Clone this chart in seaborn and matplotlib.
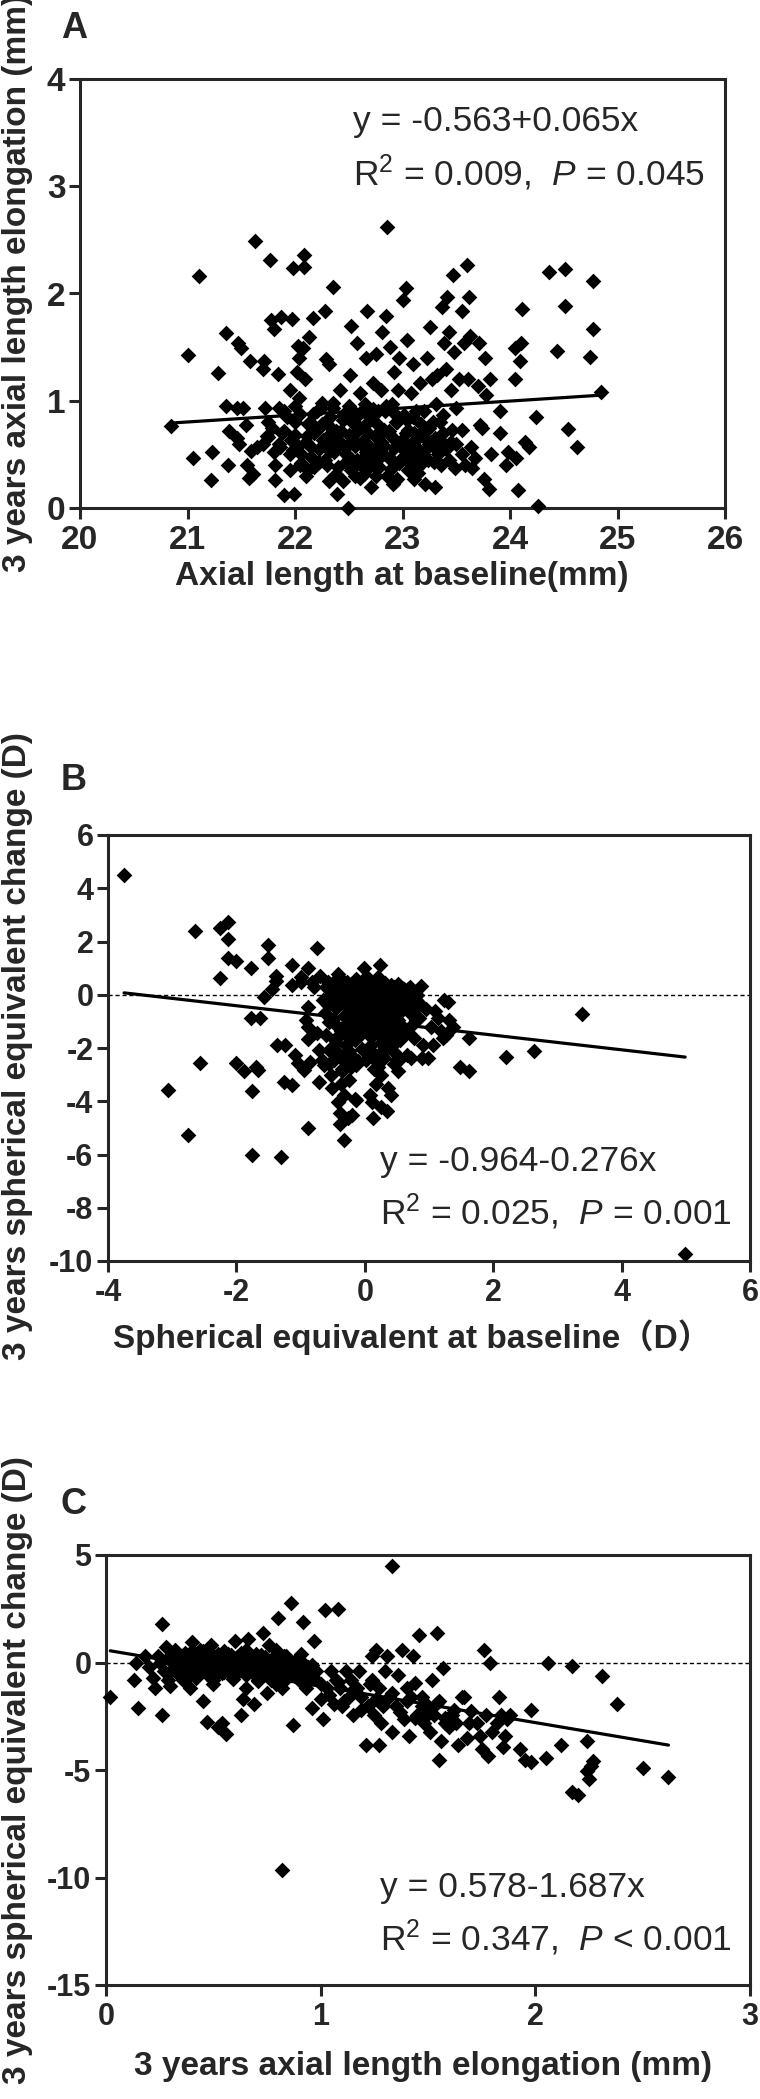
import matplotlib
matplotlib.use("Agg")
import numpy as np
import pandas as pd
import matplotlib.pyplot as plt
import matplotlib.transforms as mtransforms
import seaborn as sns

# DATA

# A: axial length at baseline (mm) vs 3-year axial elongation (mm)
a_points = [
    (20.85, 0.76), (21.0, 1.43), (21.05, 0.47), (21.11, 2.16), (21.22, 0.26), (21.23, 0.52),
    (21.28, 1.26), (21.36, 1.63), (21.36, 0.95), (21.38, 0.40), (21.39, 0.72), (21.46, 0.93),
    (21.46, 0.65), (21.47, 1.54), (21.5, 1.49), (21.48, 0.60), (21.52, 0.93), (21.54, 0.77),
    (21.55, 0.40), (21.57, 0.28), (21.58, 1.37), (21.59, 0.53), (21.61, 0.32), (21.63, 2.49),
    (21.65, 0.57), (21.7, 1.30), (21.71, 1.37), (21.72, 0.93), (21.74, 0.67), (21.75, 0.80),
    (21.77, 2.31), (21.78, 1.75), (21.8, 1.67), (21.79, 0.75), (21.81, 0.40), (21.81, 0.26),
    (21.84, 1.25), (21.85, 0.93), (21.86, 0.57), (21.87, 1.78), (21.88, 0.70), (21.9, 0.12),
    (21.93, 0.85), (21.95, 1.10), (21.96, 0.63), (21.97, 1.76), (21.98, 2.24), (21.98, 0.54),
    (21.99, 0.13), (22.0, 0.95), (22.02, 1.27), (22.03, 1.51), (22.04, 1.40), (22.04, 1.03),
    (22.05, 0.40), (22.06, 0.50), (22.07, 1.49), (22.08, 2.25), (22.08, 2.36), (22.09, 1.20),
    (22.11, 0.67), (22.12, 0.35), (22.13, 1.59), (22.14, 0.80), (22.15, 0.57), (22.17, 1.77),
    (22.17, 0.88), (22.2, 0.73), (22.22, 0.43), (22.24, 0.93), (22.26, 0.63), (22.28, 1.84),
    (22.29, 1.39), (22.3, 0.40), (22.31, 0.77), (22.32, 1.34), (22.33, 0.53), (22.35, 2.06),
    (22.35, 0.93), (22.38, 0.32), (22.39, 0.13), (22.4, 0.70), (22.42, 1.10), (22.44, 0.60),
    (22.45, 0.87), (22.47, 0.43), (22.49, 0.0), (22.5, 0.48), (22.51, 1.24), (22.52, 1.70),
    (22.53, 0.80), (22.55, 0.63), (22.56, 0.30), (22.58, 1.54), (22.59, 0.73), (22.6, 1.07),
    (22.61, 0.40), (22.62, 0.90), (22.64, 0.57), (22.66, 1.40), (22.67, 1.84), (22.68, 0.80),
    (22.7, 0.47), (22.71, 0.20), (22.73, 1.17), (22.74, 0.67), (22.75, 1.44), (22.76, 0.37),
    (22.77, 0.90), (22.78, 0.57), (22.8, 1.10), (22.81, 1.64), (22.83, 0.73), (22.85, 1.79),
    (22.86, 2.62), (22.87, 0.47), (22.88, 1.50), (22.9, 0.97), (22.91, 0.22), (22.92, 1.27),
    (22.93, 0.63), (22.94, 0.80), (22.95, 0.27), (22.96, 1.10), (22.97, 1.40), (23.0, 1.94),
    (23.01, 0.87), (23.02, 0.53), (23.03, 2.05), (23.04, 1.57), (23.05, 0.73), (23.08, 1.07),
    (23.09, 0.40), (23.1, 1.34), (23.11, 0.27), (23.12, 0.63), (23.13, 0.90), (23.14, 0.33),
    (23.16, 1.17), (23.19, 0.50), (23.2, 0.73), (23.21, 0.22), (23.23, 1.40), (23.25, 0.60),
    (23.26, 1.69), (23.27, 1.20), (23.28, 0.80), (23.29, 0.43), (23.3, 0.20), (23.31, 0.97),
    (23.32, 1.24), (23.35, 0.63), (23.36, 0.40), (23.37, 1.87), (23.38, 0.87), (23.39, 1.54),
    (23.4, 1.30), (23.41, 1.97), (23.42, 0.57), (23.43, 1.64), (23.45, 1.10), (23.46, 0.73),
    (23.47, 2.17), (23.48, 1.45), (23.49, 0.37), (23.5, 0.93), (23.53, 1.20), (23.55, 1.84),
    (23.55, 0.73), (23.57, 1.54), (23.58, 0.40), (23.6, 2.27), (23.61, 1.20), (23.62, 1.97),
    (23.63, 1.60), (23.64, 0.57), (23.65, 0.37), (23.67, 0.47), (23.7, 1.14), (23.71, 1.54),
    (23.72, 0.77), (23.74, 0.75), (23.76, 0.27), (23.77, 1.40), (23.78, 1.05), (23.8, 0.18),
    (23.81, 1.20), (23.82, 0.50), (23.91, 0.90), (23.91, 0.70), (23.96, 0.40), (23.98, 0.52),
    (24.05, 1.20), (24.05, 1.49), (24.06, 0.47), (24.07, 0.17), (24.09, 1.37), (24.1, 1.54),
    (24.11, 1.86), (24.14, 0.62), (24.18, 0.57), (24.24, 0.85), (24.26, 0.02), (24.36, 2.20),
    (24.44, 1.46), (24.51, 2.23), (24.51, 1.88), (24.54, 0.74), (24.62, 0.57), (24.74, 1.41),
    (24.77, 1.67), (24.77, 2.12), (24.85, 1.08),
]
a_cluster = [
    (22.1, 0.62), (22.15, 0.48), (22.18, 0.7), (22.22, 0.55), (22.25, 0.78), (22.28, 0.45),
    (22.3, 0.66), (22.33, 0.85), (22.36, 0.52), (22.38, 0.72), (22.4, 0.38), (22.42, 0.6),
    (22.45, 0.82), (22.47, 0.5), (22.5, 0.68), (22.52, 0.35), (22.54, 0.9), (22.56, 0.58),
    (22.58, 0.45), (22.6, 0.75), (22.62, 0.62), (22.64, 0.32), (22.66, 0.52), (22.68, 0.7),
    (22.7, 0.85), (22.72, 0.42), (22.74, 0.55), (22.76, 0.78), (22.78, 0.38), (22.8, 0.62),
    (22.82, 0.5), (22.84, 0.9), (22.86, 0.3), (22.88, 0.68), (22.9, 0.45), (22.92, 0.56),
    (22.95, 0.8), (22.98, 0.62), (23.0, 0.48), (23.03, 0.7), (23.05, 0.35), (23.08, 0.58),
    (23.1, 0.85), (23.13, 0.5), (23.15, 0.66), (23.18, 0.42), (23.2, 0.9), (23.22, 0.55),
    (21.85, 0.6), (21.9, 0.72), (21.95, 0.5), (22.0, 0.8), (22.03, 0.58), (22.06, 0.42),
    (21.75, 0.66), (21.8, 0.52), (21.7, 0.6), (22.45, 0.25), (22.6, 0.28), (22.75, 0.3),
    (22.85, 0.95), (22.65, 0.97), (22.5, 0.95), (22.35, 0.98), (22.2, 0.9), (23.3, 0.65),
    (23.35, 0.8), (23.4, 0.55), (23.25, 0.75), (23.45, 0.62),
    (21.9, 0.9), (21.95, 0.35), (22.0, 0.68), (22.05, 0.88), (22.1, 0.3), (22.12, 0.78),
    (22.18, 0.38), (22.25, 0.98), (22.28, 0.6), (22.32, 0.25), (22.37, 0.62), (22.43, 0.72),
    (22.48, 0.58), (22.53, 0.45), (22.57, 0.85), (22.63, 0.47), (22.67, 0.6), (22.69, 0.38),
    (22.73, 0.92), (22.77, 0.66), (22.79, 0.48), (22.83, 0.58), (22.87, 0.72), (22.89, 0.36),
    (22.93, 0.88), (22.97, 0.42), (23.01, 0.62), (23.04, 0.82), (23.07, 0.45), (23.11, 0.7),
    (23.14, 0.55), (23.17, 0.78), (23.21, 0.65), (23.24, 0.45), (23.28, 0.58), (23.33, 0.5),
    (23.38, 0.7), (23.43, 0.45), (23.5, 0.6), (23.55, 0.5),
]

# B: spherical equivalent at baseline (D) vs 3-year SE change (D)
b_points = [
    (-3.75, 4.5), (-3.07, -3.57), (-2.75, -5.25), (-2.64, 2.38), (-2.56, -2.57), (-2.25, 2.5),
    (-2.25, 0.63), (-2.13, 2.75), (-2.13, 2.1), (-2.13, 1.38), (-2.01, 1.25), (-2.0, -2.58),
    (-1.88, -2.87), (-1.77, 1.0), (-1.77, -0.87), (-1.76, -3.62), (-1.76, -6.0), (-1.7, -2.7),
    (-1.67, -2.83), (-1.63, -0.87), (-1.57, -0.08), (-1.51, 1.87), (-1.51, 1.37), (-1.45, 0.22),
    (-1.39, 0.72), (-1.38, 0.5), (-1.37, -1.87), (-1.3, -6.08), (-1.26, -3.28), (-1.24, -1.87),
    (-1.14, 1.1), (-1.14, 0.35), (-1.13, -3.4), (-1.09, -2.28), (-1.04, -2.57), (-1.0, 0.47),
    (-1.0, 0.67), (-0.95, -2.83), (-0.92, -0.95), (-0.89, 1.02), (-0.89, -0.45), (-0.88, -5.0),
    (-0.88, -1.2), (-0.88, -1.65), (-0.86, -2.53), (-0.83, 0.47), (-0.79, 0.3), (-0.75, 1.75),
    (-0.75, -1.45), (-0.71, -2.07), (-0.71, -3.28), (-0.7, 0.72), (-0.67, -2.45), (-0.65, -0.2),
    (-0.64, -2.62), (-0.62, -0.67), (-0.6, -1.53), (-0.58, 0.47), (-0.56, -2.07), (-0.55, -1.03),
    (-0.52, -3.0), (-0.51, -3.5), (-0.5, 0.13), (-0.48, -2.45), (-0.47, -1.7), (-0.45, -0.37),
    (-0.42, 0.77), (-0.41, -4.03), (-0.41, -2.2), (-0.39, -4.87), (-0.39, -4.45), (-0.37, -1.37),
    (-0.37, -3.37), (-0.35, -2.78), (-0.33, -0.2), (-0.32, -5.45), (-0.32, -3.78), (-0.3, -1.87),
    (-0.27, 0.47), (-0.26, -4.62), (-0.24, -3.2), (-0.24, -0.87), (-0.22, -2.7), (-0.2, -4.53),
    (-0.18, 0.22), (-0.16, -3.9), (-0.14, -2.62), (-0.13, -3.95), (-0.11, -0.03), (-0.1, -1.2),
    (-0.08, -1.53), (-0.05, -2.03), (-0.02, 1.0), (0.0, -0.53), (0.02, -2.45), (0.04, 0.47),
    (0.05, -1.37), (0.08, -3.78), (0.09, -1.87), (0.11, -4.03), (0.12, -4.62), (0.14, -2.78),
    (0.17, -3.37), (0.19, -0.87), (0.2, 0.67), (0.22, -1.53), (0.24, 1.13), (0.25, -3.03),
    (0.26, -4.2), (0.3, -2.37), (0.33, -0.2), (0.35, -4.37), (0.36, -3.5), (0.38, -1.95),
    (0.41, -3.78), (0.42, -1.37), (0.46, 0.13), (0.48, -1.78), (0.5, -2.45), (0.51, -2.87),
    (0.54, -0.7), (0.57, -0.2), (0.61, -1.53), (0.65, -2.28), (0.69, 0.13), (0.71, -1.23),
    (0.72, -2.37), (0.76, -1.62), (0.8, -0.2), (0.84, -0.87), (0.88, 0.33), (0.89, -2.37),
    (0.91, -1.87), (0.95, -0.53), (0.99, -2.37), (1.03, -1.2), (1.06, -1.87), (1.1, -0.62),
    (1.14, -0.87), (1.18, -1.37), (1.22, -1.62), (1.24, -0.2), (1.27, -1.53), (1.29, -0.28),
    (1.31, -0.95), (1.37, -1.2), (1.49, -2.73), (1.62, -1.62), (1.63, -2.87), (2.2, -2.33),
    (2.63, -2.12), (3.38, -0.73), (4.99, -9.73),
]
b_cluster = [
    (-0.6, 0.3), (-0.55, -0.1), (-0.5, 0.45), (-0.45, -0.5), (-0.4, 0.2), (-0.38, -0.3),
    (-0.35, 0.55), (-0.32, -0.8), (-0.3, 0.1), (-0.28, -0.2), (-0.25, 0.35), (-0.22, -0.6),
    (-0.2, 0.0), (-0.18, -1.0), (-0.15, 0.4), (-0.12, -0.4), (-0.1, 0.15), (-0.08, -0.75),
    (-0.05, 0.5), (-0.03, -0.15), (0.0, 0.25), (0.02, -0.45), (0.05, 0.05), (0.07, -0.9),
    (0.1, 0.4), (0.12, -0.3), (0.15, 0.15), (0.17, -0.65), (0.2, -0.05), (0.22, 0.3),
    (0.25, -0.5), (0.28, 0.1), (0.3, -0.85), (0.32, 0.45), (0.35, -0.25), (0.38, 0.2),
    (0.4, -0.6), (0.42, -0.05), (0.45, 0.3), (0.48, -0.4), (0.5, 0.1), (0.52, -0.95),
    (0.55, -0.15), (0.58, 0.25), (0.6, -0.5), (0.62, 0.0), (0.65, -0.3), (0.68, 0.2),
    (0.7, -0.7), (0.72, -0.1), (0.75, -0.45), (0.78, 0.1), (0.8, -0.95), (-0.5, -0.9),
    (-0.42, -1.2), (-0.2, -1.3), (0.0, -1.15), (0.2, -1.25), (0.4, -1.1), (0.6, -1.2),
    (-0.45, -1.8), (-0.4, -2.3), (-0.3, -1.5), (-0.25, -2.1), (-0.15, -1.7), (-0.1, -2.5),
    (-0.05, -1.4), (0.12, -2.2), (0.1, -1.6), (0.15, -2.4), (0.25, -1.8), (0.3, -2.05),
    (0.35, -1.45), (0.45, -2.15), (0.55, -1.7), (-0.55, -2.6), (-0.35, -2.85), (0.2, -2.7),
    (-0.58, -0.4), (-0.52, 0.1), (-0.47, -0.2), (-0.43, 0.6), (-0.36, -0.05), (-0.31, 0.3),
    (-0.27, -0.45), (-0.23, 0.15), (-0.17, -0.35), (-0.13, 0.6), (-0.07, -0.55), (-0.02, 0.1),
    (0.03, 0.65), (0.06, -0.25), (0.09, -0.6), (0.13, 0.0), (0.18, 0.5), (0.23, -0.3),
    (0.27, -0.7), (0.31, 0.2), (0.34, -0.45), (0.37, 0.0), (0.41, 0.35), (0.44, -0.2),
    (0.47, -0.75), (0.51, 0.4), (0.53, -0.35), (0.57, -0.6), (0.61, 0.2), (0.64, -0.15),
    (0.67, -0.55), (0.71, 0.3), (0.74, -0.25), (0.77, -0.6), (0.82, 0.0), (0.86, -0.35),
    (-0.3, -1.1), (-0.1, -1.0), (0.1, -1.1), (0.3, -1.05), (0.5, -1.3), (-0.4, -1.5),
    (0.4, -1.6), (-0.2, -2.3), (0.25, -2.25), (0.45, -2.6), (-0.45, -2.1), (0.35, -1.9),
    (-0.3, -2.55), (0.55, -2.4),
]

# C: 3-year axial elongation (mm) vs 3-year SE change (D)
c_points = [
    (0.02, -1.61), (0.13, -0.8), (0.14, 0.0), (0.15, -2.1), (0.18, 0.3), (0.2, -0.2),
    (0.22, -0.7), (0.23, -1.2), (0.24, 0.3), (0.26, 1.77), (0.26, -2.42), (0.28, 0.7),
    (0.29, -0.8), (0.3, -1.1), (0.31, 0.0), (0.32, 0.6), (0.33, -0.4), (0.35, 0.3),
    (0.36, -0.8), (0.37, 0.0), (0.38, -0.3), (0.39, -1.2), (0.4, 0.97), (0.41, 0.3),
    (0.43, -0.5), (0.44, 0.6), (0.45, -1.81), (0.46, 0.0), (0.47, -2.78), (0.48, -0.4),
    (0.49, 0.8), (0.5, -1.0), (0.52, -3.0), (0.53, 0.3), (0.54, -2.82), (0.55, -0.3),
    (0.56, -3.34), (0.57, 0.4), (0.58, -0.6), (0.6, 1.0), (0.61, 0.0), (0.63, -2.42),
    (0.64, -1.71), (0.65, -1.2), (0.66, 1.1), (0.67, -0.4), (0.69, -1.91), (0.7, 0.4),
    (0.71, -0.8), (0.73, 1.37), (0.74, 0.0), (0.75, -1.41), (0.76, 0.8), (0.77, -0.8),
    (0.79, 0.6), (0.8, 2.07), (0.81, -0.4), (0.82, -9.67), (0.82, -1.2), (0.83, 0.3),
    (0.85, -0.3), (0.86, 2.76), (0.87, -2.92), (0.88, 0.0), (0.9, -0.8), (0.91, 0.4),
    (0.92, 1.87), (0.93, -1.2), (0.95, -0.4), (0.96, -2.1), (0.97, 1.0), (0.98, -0.4),
    (1.0, -1.71), (1.01, -2.62), (1.02, 2.42), (1.03, -1.2), (1.05, -0.4), (1.06, -1.91),
    (1.07, -0.8), (1.08, 2.48), (1.09, -1.2), (1.1, -2.01), (1.12, -0.4), (1.13, -1.61),
    (1.14, -0.8), (1.15, -2.42), (1.17, -1.2), (1.18, -0.4), (1.19, -1.61), (1.21, -3.83),
    (1.22, -2.01), (1.24, 0.3), (1.24, -0.8), (1.25, -2.42), (1.26, 0.6), (1.27, -1.2),
    (1.27, -3.83), (1.28, -2.82), (1.3, -0.4), (1.31, 0.3), (1.32, -1.61), (1.33, 4.49),
    (1.33, -3.22), (1.35, -2.01), (1.36, -0.6), (1.38, 0.6), (1.39, -2.62), (1.4, -1.81),
    (1.41, -3.42), (1.42, -1.61), (1.43, 0.3), (1.44, -0.97), (1.45, -2.42), (1.46, 1.27),
    (1.47, -1.61), (1.48, -2.82), (1.5, -2.01), (1.51, -3.22), (1.52, -0.8), (1.53, -2.42),
    (1.54, 1.35), (1.55, -1.81), (1.55, -4.53), (1.56, -3.63), (1.57, -0.24), (1.58, -2.82),
    (1.59, -2.62), (1.6, -3.02), (1.61, -2.42), (1.63, -2.82), (1.64, -3.83), (1.66, -1.61),
    (1.67, -1.61), (1.68, -3.52), (1.69, -2.82), (1.7, -2.26), (1.73, -2.82), (1.74, -3.42),
    (1.75, -4.03), (1.76, 0.6), (1.77, -2.42), (1.78, -4.33), (1.79, 0.0), (1.8, -3.22),
    (1.82, -2.82), (1.83, -1.61), (1.84, -2.42), (1.85, -3.93), (1.86, -3.42), (1.87, -2.62),
    (1.88, -2.42), (1.93, -4.03), (1.95, -4.53), (1.98, -4.63), (1.98, -2.22), (2.05, -4.43),
    (2.06, 0.0), (2.12, -3.83), (2.17, -0.14), (2.17, -6.0), (2.2, -6.14), (2.24, -3.63),
    (2.24, -5.04), (2.25, -5.44), (2.26, -4.83), (2.27, -4.59), (2.31, -0.64), (2.38, -1.91),
    (2.5, -4.89), (2.62, -5.34),
]
c_cluster = [
    (0.3, 0.1), (0.31, -0.3), (0.32, 0.35), (0.33, -0.1), (0.34, -0.6), (0.35, 0.2),
    (0.36, -0.25), (0.37, 0.45), (0.38, -0.5), (0.39, 0.05), (0.4, -0.2), (0.41, 0.4),
    (0.42, -0.7), (0.43, 0.15), (0.44, -0.35), (0.45, 0.3), (0.46, -0.1), (0.47, -0.55),
    (0.48, 0.25), (0.49, -0.25), (0.5, 0.05), (0.51, -0.65), (0.52, 0.4), (0.53, -0.15),
    (0.54, 0.2), (0.55, -0.45), (0.56, 0.1), (0.57, -0.3), (0.58, 0.35), (0.59, -0.75),
    (0.6, -0.05), (0.61, 0.25), (0.62, -0.4), (0.63, 0.1), (0.64, -0.2), (0.65, -0.6),
    (0.66, 0.3), (0.67, -0.1), (0.68, -0.45), (0.69, 0.15), (0.7, -0.3), (0.71, -0.85),
    (0.72, 0.05), (0.73, -0.5), (0.74, 0.25), (0.75, -0.2), (0.76, -0.65), (0.77, 0.1),
    (0.78, -0.35), (0.79, -1.0), (0.8, 0.0), (0.81, -0.55), (0.82, 0.2), (0.83, -0.25),
    (0.84, -0.75), (0.85, 0.05), (0.86, -0.45), (0.87, -0.1), (0.88, -0.65), (0.89, 0.15),
    (0.9, -0.35), (0.91, -0.55), (0.92, 0.0), (0.93, -0.8), (0.94, -0.2), (0.95, -0.5),
    (1.0, -1.0), (1.04, -1.5), (1.08, -0.9), (1.11, -1.8), (1.15, -1.3), (1.19, -2.2),
    (1.23, -1.0), (1.26, -1.7), (1.29, -2.0), (1.33, -1.4), (1.37, -2.3), (1.4, -1.2),
    (1.44, -2.6), (1.47, -2.0), (1.5, -2.4), (1.54, -1.9), (1.58, -2.6), (1.62, -2.2),
    (0.25, 0.0), (0.27, -0.4), (0.29, 0.2),
    (0.3, -0.45), (0.33, 0.4), (0.36, 0.1), (0.39, -0.6), (0.42, 0.25), (0.45, -0.4),
    (0.48, 0.5), (0.51, -0.05), (0.54, -0.5), (0.57, 0.2), (0.6, -0.3), (0.63, 0.45),
    (0.66, -0.45), (0.69, -0.05), (0.72, 0.35), (0.75, -0.6), (0.78, 0.2), (0.81, -0.2),
    (0.84, 0.3), (0.87, -0.35), (0.9, 0.1), (0.93, -0.45), (0.96, -0.1), (0.97, -0.7),
    (0.55, 0.55), (0.45, 0.55), (0.65, 0.6), (0.35, -0.55), (0.4, 0.55), (0.5, -0.8),
]

# regression coefficients (intercept, slope) as printed in the figure
a_coef = (-0.563, 0.065)
b_coef = (-0.964, -0.276)
c_coef = (0.578, -1.687)

a_xticks = [20, 21, 22, 23, 24, 25, 26]
a_yticks = [0, 1, 2, 3, 4]
b_xticks = [-4, -2, 0, 2, 4, 6]
b_yticks = [-10, -8, -6, -4, -2, 0, 2, 4, 6]
c_xticks = [0, 1, 2, 3]
c_yticks = [-15, -10, -5, 0, 5]

a_eq = ["y = -0.563+0.065x", r"R$^2$ = 0.009,  $P$ = 0.045"]
b_eq = ["y = -0.964-0.276x", r"R$^2$ = 0.025,  $P$ = 0.001"]
c_eq = ["y = 0.578-1.687x", r"R$^2$ = 0.347,  $P$ < 0.001"]

# STYLE

sns.set_style("ticks")
plt.rcParams['font.family'] = ['Liberation Sans', 'Noto Sans CJK SC', 'DejaVu Sans']
plt.rcParams['mathtext.fontset'] = 'custom'
plt.rcParams['mathtext.rm'] = 'Liberation Sans'
plt.rcParams['mathtext.it'] = 'Liberation Sans:italic'
plt.rcParams['axes.linewidth'] = 2.2

W, H = 760, 2099
fig = plt.figure(figsize=(W / 100, H / 100), dpi=100)


def fx(px):
    return px / W


def fy(py):
    return 1 - py / H


def panel(box, pts, cluster, coef, xticks, yticks, eq, eq_xy, tick_fs, zero_line=False):
    left, top, right, bottom = box
    ax = fig.add_axes([fx(left), fy(bottom), (right - left) / W, (bottom - top) / H])
    df = pd.DataFrame(pts + cluster, columns=['x', 'y'])
    sns.scatterplot(data=df, x='x', y='y', ax=ax, marker='D', s=64, color='black',
                    linewidth=0, clip_on=False, zorder=3)
    xs = np.array([df['x'].min(), df['x'].max()])
    ax.plot(xs, coef[0] + coef[1] * xs, color='black', lw=2.3, zorder=4)
    if zero_line:
        ax.axhline(0, color='black', lw=1.0, ls=(0, (3, 2)), zorder=2)
    ax.set_xlim(xticks[0], xticks[-1])
    ax.set_ylim(yticks[0], yticks[-1])
    ax.set_xlabel('')
    ax.set_ylabel('')
    ax.set_xticks(xticks)
    ax.set_yticks(yticks)
    ax.tick_params(direction='out', length=8, width=2.2,
                   labelbottom=False, labelleft=False)
    for s in ax.spines.values():
        s.set_linewidth(2.2)

    # bold tick labels placed on the axis transforms
    xtr = mtransforms.offset_copy(ax.get_xaxis_transform(), fig=fig, y=-12.5, units='points')
    for t in xticks:
        ax.text(t, 0, str(t), transform=xtr, ha='center', va='top',
                fontsize=tick_fs, fontweight='bold', clip_on=False)
    ytr = mtransforms.offset_copy(ax.get_yaxis_transform(), fig=fig, x=-10.5, units='points')
    for t in yticks:
        ax.text(0, t, str(t), transform=ytr, ha='right', va='center_baseline',
                fontsize=tick_fs, fontweight='bold', clip_on=False)

    ex, ey = eq_xy
    fig.text(fx(ex), fy(ey), eq[0], fontsize=25.5, va='center', ha='left')
    fig.text(fx(ex), fy(ey + 51), eq[1], fontsize=25.5, va='center', ha='left')
    return ax


ax_a = panel((80, 79, 725, 508), a_points, a_cluster, a_coef, a_xticks, a_yticks,
             a_eq, (353, 122), 24)
ax_b = panel((108, 835, 750, 1261), b_points, b_cluster, b_coef, b_xticks, b_yticks,
             b_eq, (380, 1161), 22, zero_line=True)
ax_c = panel((106, 1555, 750, 1985), c_points, c_cluster, c_coef, c_xticks, c_yticks,
             c_eq, (380, 1887), 22, zero_line=True)

# panel letters
for letter, ly in [('A', 29), ('B', 781), ('C', 1504)]:
    fig.text(fx(74), fy(ly), letter, fontsize=26, fontweight='bold', ha='center', va='center')

# axis titles
fig.text(fx(18), fy(283), '3 years axial length elongation (mm)', rotation=90,
         fontsize=24, fontweight='bold', ha='center', va='center')
fig.text(fx(18), fy(1046), '3 years spherical equivalent change (D)', rotation=90,
         fontsize=24, fontweight='bold', ha='center', va='center')
fig.text(fx(18), fy(1770), '3 years spherical equivalent change (D)', rotation=90,
         fontsize=24, fontweight='bold', ha='center', va='center')

fig.text(fx(402), fy(576), 'Axial length at baseline(mm)',
         fontsize=24, fontweight='bold', ha='center', va='center')
fig.text(fx(412), fy(1337), 'Spherical equivalent at baseline（D）',
         fontsize=24, fontweight='bold', ha='center', va='center')
fig.text(fx(423), fy(2066), '3 years axial length elongation (mm)',
         fontsize=24, fontweight='bold', ha='center', va='center')

fig.savefig("out.png", dpi=100)
plt.close(fig)
